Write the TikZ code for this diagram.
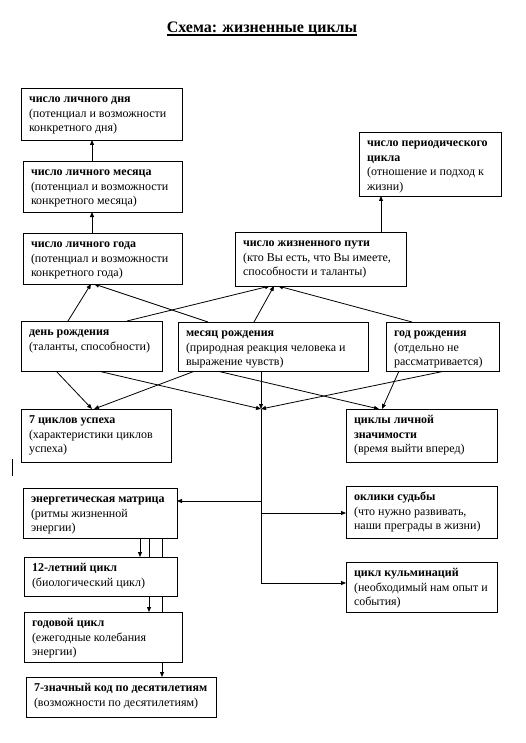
\documentclass[tikz,border=0pt]{standalone}
\usepackage{fontspec}
\setmainfont{Liberation Serif}
\usetikzlibrary{arrows.meta,calc}
\pgfdeclarelayer{back}
\pgfdeclarelayer{bg}
\pgfsetlayers{back,bg,main}
\newlength\bxw
\newlength\bxh
\newcommand\mkbox[7]{%
  \pgfmathsetlength\bxw{#4-#2-16}%
  \pgfmathsetlength\bxh{#5-#3-8}%
  \node[boxst] (#1) at (#2,-#3) {\parbox[c][\bxh][t]{\bxw}{\raggedright\strut\textbf{#6}\\#7}};%
}
\tikzset{
  boxst/.style={draw, line width=0.9pt, fill=white, anchor=north west, inner xsep=8pt, inner ysep=4pt, outer sep=0pt, font=\fontsize{12}{14.8}\selectfont},
  arr/.style={line width=0.8pt, -{Triangle[length=5pt,width=4pt]}},
  ln/.style={line width=0.8pt}
}
\begin{document}
\begin{tikzpicture}[x=1pt,y=1pt]
\begin{pgfonlayer}{back}
\fill[white] (0,0) rectangle (526,-743);
\end{pgfonlayer}
\useasboundingbox (0,0) rectangle (526,-743);
\node[font=\bfseries\fontsize{16}{19}\selectfont, inner sep=0pt, anchor=base] (title) at (262,-32.7) {Схема: жизненные циклы};
\draw[line width=1.3pt] ([yshift=-2.4pt]title.base west) -- ([yshift=-2.4pt]title.base east);

\mkbox{pday}{21}{88}{182}{140}{число личного дня}{(потенциал  и возможности\\конкретного дня)}
\mkbox{pmonth}{23}{161}{182}{212}{число личного месяца}{(потенциал  и возможности\\конкретного месяца)}
\mkbox{pyear}{23}{233}{182}{284}{число личного года}{(потенциал  и возможности\\конкретного года)}
\mkbox{period}{359}{132}{501}{196}{число периодического\\цикла}{(отношение и подход к\\жизни)}
\mkbox{life}{235}{232}{406}{286}{число жизненного пути}{(кто Вы есть, что Вы имеете,\\способности  и таланты)}
\mkbox{bday}{21}{321}{162}{371}{день рождения}{(таланты,  способности)}
\mkbox{bmonth}{178}{322}{368}{371}{месяц рождения}{(природная реакция  человека и\\выражение чувств)}
\mkbox{byear}{386}{322}{499}{371}{год рождения}{(отдельно не\\рассматривается)}
\mkbox{seven}{21}{409}{171}{462}{7 циклов успеха}{(характеристики  циклов\\успеха)}
\mkbox{signif}{346}{409}{497}{462}{циклы личной\\значимости}{(время выйти вперед)}
\mkbox{matrix}{23}{488}{177}{538}{энергетическая  матрица}{(ритмы жизненной\\энергии)}
\mkbox{okl}{346}{486}{497}{538}{оклики судьбы}{(что нужно развивать,\\наши преграды  в жизни)}
\mkbox{twelve}{24}{557}{177}{596}{12-летний цикл}{(биологический  цикл)}
\mkbox{kulm}{346}{562}{497}{612}{цикл кульминаций}{(необходимый нам  опыт и\\события)}
\mkbox{annual}{24}{612}{182}{662}{годовой цикл}{(ежегодные  колебания\\энергии)}
\mkbox{code}{26}{677}{216}{717}{7-значный код по десятилетиям}{(возможности по десятилетиям)}

\coordinate (hub) at (261,-409);
\coordinate (j1) at (261,-501);
\coordinate (j2) at (261,-513);
\coordinate (tend) at (261,-583);

\draw[line width=1.6pt] (12.5,-459) -- (12.5,-476);

\begin{pgfonlayer}{bg}
\draw[arr] (92,0 |- pmonth.north) -- (92,0 |- pday.south);
\draw[arr] (92,0 |- pyear.north) -- (92,0 |- pmonth.south);
\draw[arr] (381,0 |- life.north) -- (381,0 |- period.south);
\draw[arr] (68,0 |- bday.north) -- (91,0 |- pyear.south);
\draw[arr] (208,0 |- bmonth.north) -- (94,0 |- pyear.south);
\draw[arr] (127,0 |- bday.north) -- (270,0 |- life.south);
\draw[arr] (254,0 |- bmonth.north) -- (274,0 |- life.south);
\draw[arr] (412,0 |- byear.north) -- (278,0 |- life.south);
\draw[arr] (56,0 |- bday.south) -- (92,0 |- seven.north);
\draw[arr] (195,0 |- bmonth.south) -- (94,0 |- seven.north);
\draw[arr] (98,0 |- bday.south) -- (hub);
\draw[arr] (261,0 |- bmonth.south) -- (hub);
\draw[arr] (445,0 |- byear.south) -- (hub);
\draw[arr] (217,0 |- bmonth.south) -- (379,0 |- signif.north);
\draw[arr] (399,0 |- byear.south) -- (382,0 |- signif.north);
\draw[ln] (hub) -- (tend);
\draw[arr] (j1) -- (j1 -| matrix.east);
\draw[arr] (j2) -- (j2 -| okl.west);
\draw[arr] (tend) -- (tend -| kulm.west);
\draw[arr] (140,0 |- matrix.south) -- (140,0 |- twelve.north);
\draw[arr] (149,0 |- matrix.south) -- (149,0 |- annual.north);
\draw[arr] (162,0 |- matrix.south) -- (162,0 |- code.north);
\end{pgfonlayer}
\end{tikzpicture}
\end{document}
